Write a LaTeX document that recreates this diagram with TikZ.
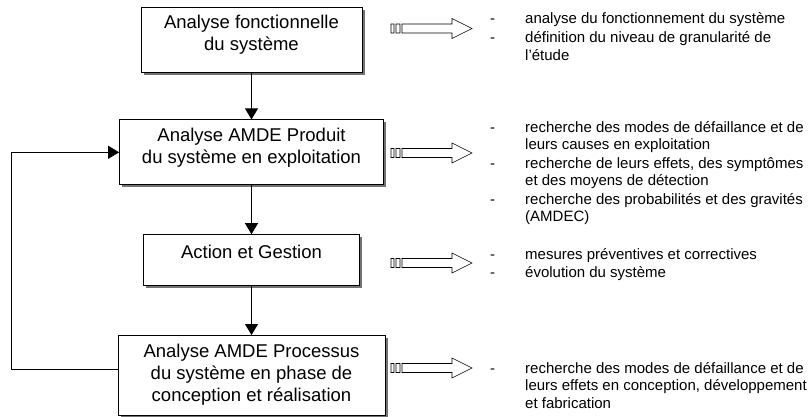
\documentclass[tikz,border=0pt]{standalone}
\usepackage{fontspec}
\setmainfont{Liberation Sans}
\usetikzlibrary{arrows.meta, positioning, shadows}

\begin{document}
\begin{tikzpicture}[x=1pt, y=-1pt,
  phase/.style={draw, line width=0.8pt, fill=white, minimum height=65pt,
    drop shadow={shadow xshift=2.5pt, shadow yshift=-2.5pt, fill=black!55, opacity=1}},
  phasetext/.style={align=center, inner sep=0pt, font=\fontsize{18.5}{22}\selectfont},
  flow/.style={line width=0.8pt, -{Triangle[length=11pt, width=13pt]}},
  desc/.style={anchor=base west, inner sep=0pt, font=\fontsize{15}{17.5}\selectfont},
  outarrow/.pic={
    \draw[line width=0.6pt] (0,-4.5) rectangle (3,4.5) (5,-4.5) rectangle (9,4.5)
      (11,-4.5) -- (61,-4.5) -- (61,-10) -- (81,0) -- (61,10) -- (61,4.5) -- (11,4.5) -- cycle;
  }
]
  \useasboundingbox (0,0) rectangle (810,416);

  \node[phase, minimum width=221pt] (ana) at (251.5,39.5) {};
  \node[phase, minimum width=264pt, below=47pt of ana] (prod) {};
  \node[phase, minimum width=216pt, minimum height=51pt, below=49pt of prod] (act) {};
  \node[phase, minimum width=267pt, minimum height=80pt, below=49pt of act] (proc) {};

  \node[phasetext, below=8.5pt of ana.north] (anatxt) {Analyse fonctionnelle\\du système};
  \node[phasetext, below=8.5pt of prod.north] (prodtxt) {Analyse AMDE Produit\\du système en exploitation};
  \node[phasetext, below=11pt of act.north] (acttxt) {Action et Gestion};
  \node[phasetext, below=8.5pt of proc.north] (proctxt) {Analyse AMDE Processus\\du système en phase de\\conception et réalisation};

  \draw[flow] (ana) -- (prod);
  \draw[flow] (prod) -- (act);
  \draw[flow] (act) -- (proc);
  \draw[flow] ([yshift=6pt]proc.west) -- ++(-106,0) |- (prod.west);

  \pic at (391,28.5) {outarrow};
  \pic at (391,153) {outarrow};
  \pic at (391,263) {outarrow};
  \pic at (391,368) {outarrow};

  \node[desc] (anadesc) at (490,23) {\begin{tabular}[t]{@{}p{35pt}@{}l@{}}
    - & analyse du fonctionnement du système\\[2pt]
    - & définition du niveau de granularité de\\
      & l'étude
  \end{tabular}};
  \node[desc] (proddesc) at (490,132) {\begin{tabular}[t]{@{}p{35pt}@{}l@{}}
    - & recherche des modes de défaillance et de\\
      & leurs causes en exploitation\\[1pt]
    - & recherche de leurs effets, des symptômes\\
      & et des moyens de détection\\[1pt]
    - & recherche des probabilités et des gravités\\
      & (AMDEC)
  \end{tabular}};
  \node[desc] (actdesc) at (490,259) {\begin{tabular}[t]{@{}p{35pt}@{}l@{}}
    - & mesures préventives et correctives\\[1pt]
    - & évolution du système
  \end{tabular}};
  \node[desc] (procdesc) at (490,373) {\begin{tabular}[t]{@{}p{35pt}@{}l@{}}
    - & recherche des modes de défaillance et de\\
      & leurs effets en conception, développement\\
      & et fabrication
  \end{tabular}};
\end{tikzpicture}
\end{document}
